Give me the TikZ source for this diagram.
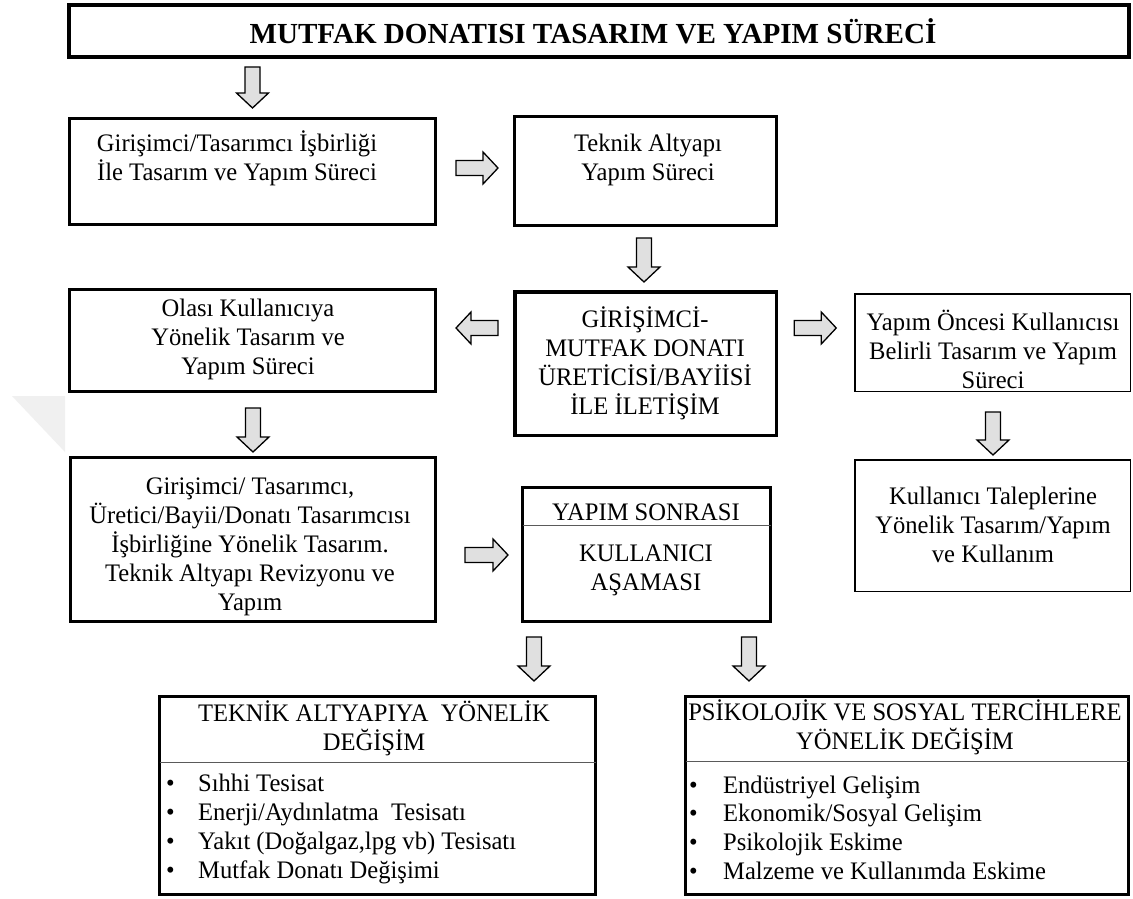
\documentclass[tikz,border=0pt]{standalone}
\usepackage{fontspec}
\setmainfont{Liberation Serif}[FakeStretch=0.975]
\newfontfamily\titlefont{Liberation Serif Bold}
\usetikzlibrary{calc}
\definecolor{arrowgray}{RGB}{224,224,224}
\definecolor{divgray}{RGB}{90,90,90}
\tikzset{
  x=1pt, y=1pt,
  box/.style={draw=black, line width=3pt, inner sep=0pt, outer sep=0pt},
  thinbox/.style={draw=black, line width=1.5pt, inner sep=0pt, outer sep=0pt},
  txt/.style={align=center, inner sep=0pt, font=\fontsize{25.2}{29}\selectfont},
  listtxt/.style={align=left, inner sep=0pt, font=\fontsize{25.2}{28.7}\selectfont},
  blockarrow/.style={draw=black, fill=arrowgray, line width=1.3pt, line join=miter},
  divider/.style={draw=divgray, line width=1pt}
}
\newcommand{\bitem}[2]{\makebox[#1][l]{\textbullet}#2}
\newcommand{\barrow}[2]{%
  \coordinate (ba-s) at #1;
  \coordinate (ba-e) at #2;
  \coordinate (ba-h) at ($(ba-e)!15pt!(ba-s)$);
  \draw[blockarrow] ($(ba-s)!7.5pt!90:(ba-e)$) -- ($(ba-h)!7.5pt!-90:(ba-s)$) -- ($(ba-h)!16pt!-90:(ba-s)$) -- (ba-e) -- ($(ba-h)!16pt!90:(ba-s)$) -- ($(ba-h)!7.5pt!90:(ba-s)$) -- ($(ba-s)!7.5pt!-90:(ba-e)$) -- cycle;
}
\begin{document}
\begin{tikzpicture}
\fill[white] (0,0) rectangle (1133,-899);
\useasboundingbox (0,0) rectangle (1133,-899);
% faint watermark triangle
\fill[black!6] (12,-396) -- (65,-396) -- (65,-452) -- cycle;

% title
\node[draw=black, line width=4pt, inner sep=0pt, outer sep=0pt, minimum width=1060, minimum height=52] (title) at (599,-31) {};
\node[inner sep=0pt, font=\titlefont\fontsize{29.1}{32}\selectfont] (titlet) at (593,-31) {MUTFAK DONATISI TASARIM VE YAPIM SÜRECİ};

% row 1
\node[box, minimum width=366, minimum height=106] (A) at (252.5,-171.5) {};
\node[txt] (At) at (237,-158) {Girişimci/Tasarımcı İşbirliği\\İle Tasarım ve Yapım Süreci};
\node[box, minimum width=262, minimum height=109] (B) at (645.5,-171) {};
\node[txt] (Bt) at (648,-160) {Teknik Altyapı\\Yapım Süreci};

% row 2
\node[box, line width=3.5pt, minimum width=261.5, minimum height=143.5] (C) at (645.5,-363.5) {};
\node[txt] (Ct) at (645,-363.5) {GİRİŞİMCİ-\\MUTFAK DONATI\\ÜRETİCİSİ/BAYİİSİ\\İLE İLETİŞİM};
\node[box, minimum width=366, minimum height=102] (D) at (252.5,-340.5) {};
\node[txt] (Dt) at (248,-339) {Olası Kullanıcıya\\Yönelik Tasarım ve\\Yapım Süreci};
\node[thinbox, minimum width=275.5, minimum height=97.5] (E) at (992.5,-342.5) {};
\node[txt] (Et) at (993,-349) {Yapım Öncesi Kullanıcısı\\Belirli Tasarım ve Yapım\\Süreci};

% row 3
\node[box, minimum width=365, minimum height=164] (F) at (253,-539.5) {};
\node[txt] (Ft) at (250,-547) {Girişimci/ Tasarımcı,\\Üretici/Bayii/Donatı Tasarımcısı\\İşbirliğine Yönelik Tasarım.\\Teknik Altyapı Revizyonu ve\\Yapım};
\node[box, minimum width=248, minimum height=134] (H) at (646.5,-554.5) {};
\draw[divider] (H.west |- 0,-525) -- (H.east |- 0,-525);
\node[txt] (Hh) at (646,-512) {YAPIM SONRASI};
\node[txt] (Ht) at (646,-570.5) {KULLANICI\\AŞAMASI};
\node[thinbox, minimum width=275.5, minimum height=131.5] (J) at (992.5,-525.5) {};
\node[txt] (Jt) at (993,-525) {Kullanıcı Taleplerine\\Yönelik Tasarım/Yapım\\ve Kullanım};

% row 4
\node[box, minimum width=436, minimum height=198] (G) at (377.5,-795.5) {};
\draw[divider] (G.west |- 0,-762) -- (G.east |- 0,-762);
\node[txt] (Gh) at (374,-728) {TEKNİK ALTYAPIYA\ \ YÖNELİK\\DEĞİŞİM};
\node[listtxt, anchor=west] (Gl) at (166,-829) {\bitem{32pt}{Sıhhi Tesisat}\\\bitem{32pt}{Enerji/Aydınlatma\ \ Tesisatı}\\\bitem{32pt}{Yakıt (Doğalgaz,lpg vb) Tesisatı}\\\bitem{32pt}{Mutfak Donatı Değişimi}};

\node[box, minimum width=443, minimum height=198] (I) at (907,-795.5) {};
\draw[divider] (I.west |- 0,-761) -- (I.east |- 0,-761);
\node[txt] (Ih) at (905,-727) {PSİKOLOJİK VE SOSYAL TERCİHLERE\\YÖNELİK DEĞİŞİM};
\node[listtxt, anchor=west] (Il) at (689,-827.5) {\bitem{34pt}{Endüstriyel Gelişim}\\\bitem{34pt}{Ekonomik/Sosyal Gelişim}\\\bitem{34pt}{Psikolojik Eskime}\\\bitem{34pt}{Malzeme ve Kullanımda Eskime}};

% block arrows
\barrow{($(A.north |- title.south)+(0,-10)$)}{($(A.north)+(0,10.5)$)}
\barrow{($(A.east)+(20.5,3.5)$)}{($(B.west)+(-16.5,3)$)}
\barrow{($(B.south)+(-1.5,-12.5)$)}{($(C.north)+(-1.5,9.75)$)}
\barrow{($(C.west)+(-16.75,35.5)$)}{($(D.east)+(20.5,12.5)$)}
\barrow{($(C.east)+(18,35.5)$)}{($(E.west)+(-18.5,14.5)$)}
\barrow{($(D.south)+(0.5,-16.5)$)}{($(F.north)+(0,5.5)$)}
\barrow{($(E.south)+(0.5,-20.75)$)}{($(J.north)+(0.5,4.75)$)}
\barrow{($(F.east)+(29.5,-15.5)$)}{($(H.west)+(-14.5,-0.5)$)}
\barrow{($(H.south -| 534,0)+(0,-15.5)$)}{($(G.north -| 534,0)+(0,15.5)$)}
\barrow{($(H.south -| 749,0)+(0,-15.5)$)}{($(I.north -| 749,0)+(0,15.5)$)}
\end{tikzpicture}
\end{document}
